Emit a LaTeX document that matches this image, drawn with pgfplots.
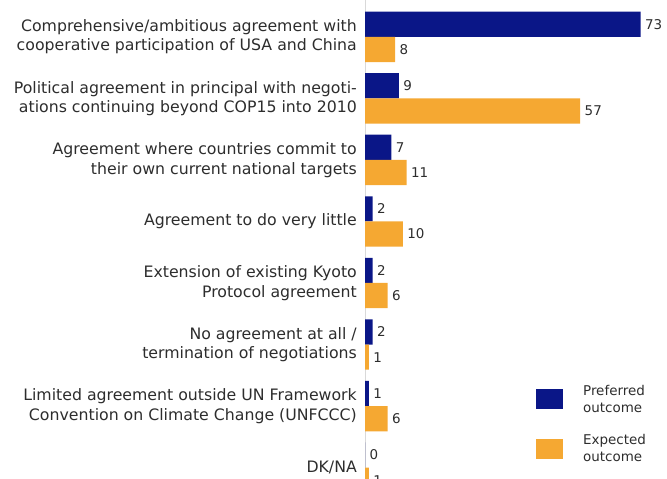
\documentclass[border=0pt]{standalone}
\usepackage{pgfplots}
\pgfplotsset{compat=1.18}
\usepackage{fontspec}
\setmainfont{DejaVu Sans}
\definecolor{prefblue}{RGB}{10,22,135}
\definecolor{exporange}{RGB}{245,168,50}
\definecolor{txt}{RGB}{45,45,45}

\begin{document}
\begin{tikzpicture}
\begin{axis}[
    xbar,
    scale only axis,
    width=302bp, height=478bp,
    xmin=0, xmax=80,
    ymin=-0.6, ymax=7.17,
    y dir=reverse,
    bar width=0.41,
    hide x axis,
    axis y line*=left,
    y axis line style={draw=black!15, line width=0.8pt},
    major tick length=0pt,
    ytick={0,...,7},
    yticklabels={
      {Comprehensive/ambitious agreement with\\cooperative participation of USA and China},
      {Political agreement in principal with negoti-\\ations continuing beyond COP15 into 2010},
      {Agreement where countries commit to\\their own current national targets},
      {Agreement to do very little},
      {Extension of existing Kyoto\\Protocol agreement},
      {No agreement at all /\\termination of negotiations},
      {Limited agreement outside UN Framework\\Convention on Climate Change (UNFCCC)},
      {DK/NA}},
    yticklabel style={align=right, font=\fontsize{15.8}{19.5}\selectfont, text=txt, inner sep=0pt, xshift=-8bp},
    /pgf/number format/assume math mode=true,
    nodes near coords,
    nodes near coords style={font=\fontsize{13.5}{15}\selectfont, text=txt, xshift=1bp},
    legend cell align=left,
    legend image code/.code={\fill[#1] (0bp,-10bp) rectangle (27bp,10bp);},
    legend style={at={(0.566,0.195)}, anchor=north west, draw=none, fill=none,
      inner sep=0pt, row sep=21bp, column sep=20bp,
      nodes={align=left, font=\fontsize{13.5}{17}\selectfont, text=txt, inner sep=0pt}},
]
\addplot[fill=prefblue, draw=none, bar shift=-0.205] coordinates {(73,0) (9,1) (7,2) (2,3) (2,4) (2,5) (1,6) (0,7)};
\addlegendentry{Preferred\\outcome}
\addplot[fill=exporange, draw=none, bar shift=0.205] coordinates {(8,0) (57,1) (11,2) (10,3) (6,4) (1,5) (6,6) (1,7)};
\addlegendentry{Expected\\outcome}
\end{axis}
\pgfresetboundingbox
\path[use as bounding box] ([xshift=-365bp]current axis.south west) rectangle (current axis.north east);
\end{tikzpicture}
\end{document}
